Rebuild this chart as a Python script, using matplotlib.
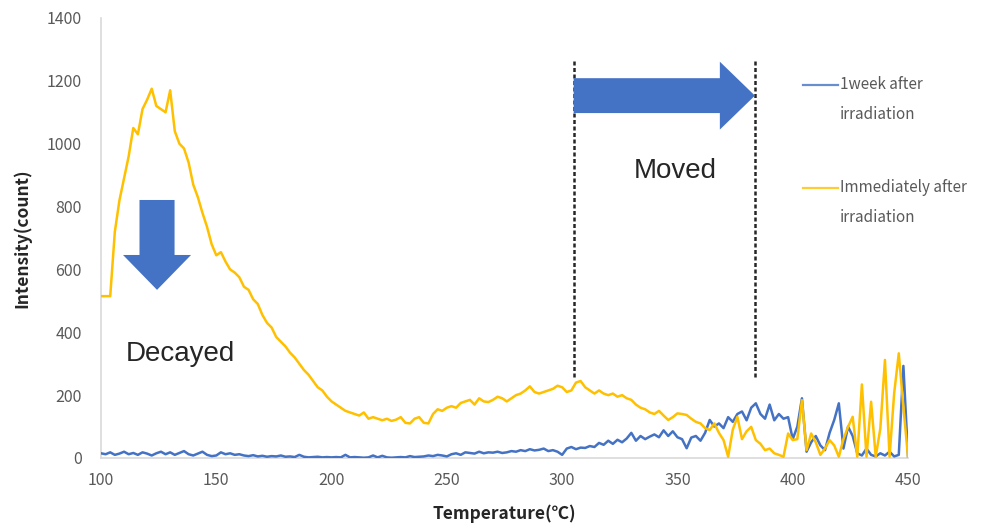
import matplotlib
matplotlib.use("Agg")
import matplotlib.pyplot as plt
import numpy as np
from matplotlib.lines import Line2D
from matplotlib.patches import FancyArrow

BLUE = "#4472C4"
ORANGE = "#FFC000"
TEXT = "#595959"
DARK = "#262626"
SPINE = "#D9D9D9"

# measurement grid, every 2 degrees
temperature = np.arange(100, 451, 2)

immediately = [
    515, 515, 515, 720, 820, 890, 960, 1050, 1030, 1110,
    1140, 1175, 1120, 1110, 1100, 1170, 1040, 1000, 985, 940,
    870, 830, 780, 735, 680, 645, 655, 625, 600, 590,
    575, 545, 535, 505, 490, 455, 430, 415, 385, 370,
    355, 335, 320, 300, 280, 265, 245, 225, 215, 195,
    180, 170, 160, 150, 145, 140, 135, 145, 125, 130,
    125, 120, 125, 118, 122, 130, 112, 110, 125, 130,
    112, 110, 140, 155, 150, 160, 165, 160, 175, 180,
    185, 170, 190, 180, 178, 185, 195, 190, 180, 190,
    200, 205, 215, 228, 210, 205, 210, 215, 220, 230,
    225, 210, 215, 240, 245, 225, 215, 205, 215, 205,
    200, 205, 195, 200, 190, 185, 170, 160, 155, 145,
    140, 150, 135, 121, 130, 142, 140, 137, 125, 115,
    110, 95, 89, 110, 80, 57, 4, 90, 131, 60,
    85, 99, 57, 45, 25, 30, 15, 10, 4, 78,
    57, 60, 184, 25, 78, 50, 10, 30, 57, 40,
    4, 60, 99, 131, 4, 234, 4, 179, 4, 94,
    312, 4, 206, 333, 163, 4,
]

one_week = [
    15, 12, 18, 10, 14, 20, 12, 16, 10, 18,
    14, 8, 15, 20, 12, 18, 10, 16, 22, 12,
    8, 14, 20, 10, 6, 8, 18, 12, 15, 10,
    12, 8, 6, 9, 5, 7, 4, 6, 5, 8,
    4, 5, 3, 10, 4, 2, 3, 4, 2, 3,
    2, 3, 2, 10, 2, 3, 2, 1, 2, 8,
    2, 7, 2, 1, 2, 3, 2, 6, 3, 4,
    5, 8, 6, 10, 8, 5, 12, 15, 10, 18,
    16, 14, 20, 15, 18, 17, 20, 16, 18, 22,
    20, 25, 22, 28, 24, 26, 30, 22, 25, 20,
    10, 30, 35, 28, 33, 32, 38, 35, 48, 42,
    55, 45, 58, 50, 62, 80, 55, 70, 60, 68,
    75, 66, 88, 70, 85, 66, 60, 31, 65, 70,
    55, 80, 121, 100, 110, 95, 130, 115, 140, 148,
    120, 160, 174, 140, 125, 170, 120, 140, 125, 130,
    60, 100, 190, 20, 50, 70, 40, 25, 80, 121,
    174, 30, 100, 70, 15, 8, 30, 10, 5, 15,
    8, 20, 5, 10, 293, 5,
]

labels = ["1week after\nirradiation", "Immediately after\nirradiation"]
x_ticks = [100, 150, 200, 250, 300, 350, 400, 450]
y_ticks = [0, 200, 400, 600, 800, 1000, 1200, 1400]

# peak shift markers (start and end of the move)
shift_from, shift_to = 305, 383.6

plt.rcParams["font.family"] = ["Noto Sans CJK JP", "DejaVu Sans"]

fig = plt.figure(figsize=(9.99, 5.31), dpi=100, facecolor="white")
ax = fig.add_axes([101 / 999, 73 / 531, 807 / 999, 440 / 531])

ax.plot(temperature, one_week, color=BLUE, lw=1.8, zorder=3)
ax.plot(temperature, immediately, color=ORANGE, lw=1.8, zorder=4)

ax.set_xlim(100, 450)
ax.set_ylim(0, 1400)
ax.set_xticks(x_ticks)
ax.set_yticks(y_ticks)
ax.tick_params(length=0, labelsize=11.5, colors=TEXT)
ax.tick_params(axis="y", pad=14)
ax.tick_params(axis="x", pad=10)

for side in ("top", "right"):
    ax.spines[side].set_visible(False)
for side in ("left", "bottom"):
    ax.spines[side].set_color(SPINE)
    ax.spines[side].set_linewidth(1.2)

ax.set_xlabel("Temperature(℃)", fontsize=12.5, fontweight="bold", color=DARK)
ax.set_ylabel("Intensity(count)", fontsize=12.5, fontweight="bold", color=DARK,
              va="center")
ax.xaxis.set_label_coords(0.5, -0.105)
ax.yaxis.set_label_coords(-0.098, 0.5)

# annotations
for x in (shift_from, shift_to):
    ax.plot([x, x], [258, 1262], color=DARK, lw=1.8,
            linestyle=(0, (1.6, 1.0)), zorder=5)

ax.add_patch(FancyArrow(shift_from, 1153, shift_to - shift_from, 0,
                        width=111, head_width=216, head_length=15.2,
                        length_includes_head=True, color=BLUE, lw=0, zorder=6))
ax.add_patch(FancyArrow(124.3, 821, 0, -286,
                        width=15.2, head_width=29.5, head_length=111,
                        length_includes_head=True, color=BLUE, lw=0, zorder=6))

ax.text(134.3, 331, "Decayed", fontsize=20, color=DARK, family="Liberation Sans",
        ha="center", va="center", zorder=7)
ax.text(348.9, 913, "Moved", fontsize=20, color=DARK, family="Liberation Sans",
        ha="center", va="center", zorder=7)

# legend drawn by hand so the handle sits on the first text line
for color, label, y in zip((BLUE, ORANGE), labels, (85, 188)):
    fy = 1 - y / 531
    fig.add_artist(Line2D([803 / 999, 838 / 999], [fy, fy], color=color,
                          lw=1.6, alpha=0.8))
    fig.text(840 / 999, fy + 9 / 531, label, fontsize=11, color=TEXT,
             va="top", ha="left", linespacing=2.0)

fig.savefig("out.png", dpi=100, facecolor="white")
